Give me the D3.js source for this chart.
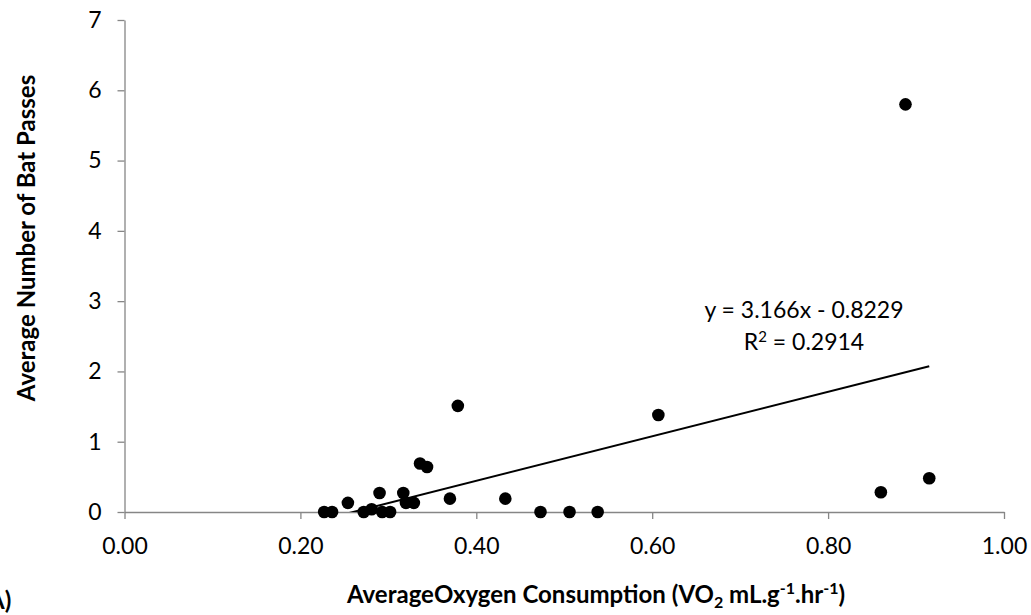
<!DOCTYPE html>
<html>
<head>
    <meta charset="utf-8">
    <style>
        body { margin: 0; background: #fff; }
        text { font-family: Lato, "Open Sans", sans-serif; }
    </style>
</head>
<body>
    <script src="https://cdn.jsdelivr.net/npm/d3@7"></script>
    <script>
        // values
        var oxygen = [0.227, 0.236, 0.254, 0.272, 0.281, 0.290, 0.293, 0.302, 0.317, 0.320, 0.329, 0.336,
                      0.344, 0.370, 0.379, 0.433, 0.473, 0.506, 0.538, 0.607, 0.860, 0.888, 0.915];
        var batPasses = [0, 0, 0.13, 0, 0.04, 0.27, 0, 0, 0.27, 0.13, 0.13, 0.69,
                         0.64, 0.19, 1.51, 0.19, 0, 0, 0, 1.38, 0.28, 5.80, 0.48];
        var xTicks = [0, 0.2, 0.4, 0.6, 0.8, 1.0];
        var yTicks = [0, 1, 2, 3, 4, 5, 6, 7];
        var slope = 3.166, intercept = -0.8229;
        var eqLabel = "y = 3.166x - 0.8229";
        var r2Label = "0.2914";

        var width = 1031, height = 615;
        var plot = { left: 124.5, right: 1004, top: 20, bottom: 512 };
        var fontSize = 23;

        var svg = d3.select("body").append("svg")
            .attr("width", width)
            .attr("height", height);

        var xScale = d3.scaleLinear().domain([0, 1]).range([plot.left, plot.right]);
        var yScale = d3.scaleLinear().domain([0, 7]).range([plot.bottom, plot.top]);

        var xAxis = d3.axisBottom(xScale).tickValues(xTicks).tickFormat(d3.format(".2f"))
            .tickSizeInner(7).tickSizeOuter(0).tickPadding(19);
        var yAxis = d3.axisLeft(yScale).tickValues(yTicks).tickFormat(d3.format("d"))
            .tickSizeInner(7).tickSizeOuter(0).tickPadding(16);

        var xg = svg.append("g").attr("transform", "translate(0," + plot.bottom + ")").call(xAxis);
        var yg = svg.append("g").attr("transform", "translate(" + plot.left + ",0)").call(yAxis);
        styleAxis(xg);
        styleAxis(yg);

        // trendline, clipped to the plot area
        svg.append("clipPath").attr("id", "clip")
            .append("rect")
            .attr("x", plot.left).attr("y", plot.top)
            .attr("width", plot.right - plot.left).attr("height", plot.bottom - plot.top);
        var xExt = d3.extent(oxygen);
        svg.append("line")
            .attr("clip-path", "url(#clip)")
            .attr("x1", xScale(xExt[0])).attr("y1", yScale(slope * xExt[0] + intercept))
            .attr("x2", xScale(xExt[1])).attr("y2", yScale(slope * xExt[1] + intercept))
            .attr("stroke", "#000").attr("stroke-width", 2);

        svg.append("g").selectAll("circle")
            .data(d3.zip(oxygen, batPasses))
            .enter().append("circle")
            .attr("cx", function (d) { return xScale(d[0]); })
            .attr("cy", function (d) { return yScale(d[1]); })
            .attr("r", 6.3)
            .attr("fill", "#000");

        // equation labels
        svg.append("text").attr("x", 804).attr("y", 318)
            .attr("text-anchor", "middle").attr("font-size", fontSize).text(eqLabel);
        var r2 = svg.append("text").attr("x", 804).attr("y", 350)
            .attr("text-anchor", "middle").attr("font-size", fontSize);
        r2.append("tspan").text("R");
        r2.append("tspan").attr("font-size", 15).attr("dy", -8).text("2");
        r2.append("tspan").attr("dy", 8).text(" = " + r2Label);

        // axis titles
        svg.append("text")
            .attr("transform", "translate(35,238) rotate(-90)")
            .attr("text-anchor", "middle").attr("font-size", 24).attr("font-weight", "bold")
            .text("Average Number of Bat Passes");

        var xt = svg.append("text").attr("x", 596).attr("y", 603)
            .attr("text-anchor", "middle").attr("font-size", 24).attr("font-weight", "bold");
        xt.append("tspan").text("AverageOxygen Consumption (VO");
        xt.append("tspan").attr("font-size", 16).attr("dy", 5).text("2");
        xt.append("tspan").attr("dy", -5).text(" mL.g");
        xt.append("tspan").attr("font-size", 16).attr("dy", -9).text("-1");
        xt.append("tspan").attr("dy", 9).text(".hr");
        xt.append("tspan").attr("font-size", 16).attr("dy", -9).text("-1");
        xt.append("tspan").attr("dy", 9).text(")");

        svg.append("text").attr("x", -12).attr("y", 609)
            .attr("font-size", 24).attr("font-weight", "bold").text("A)");

        function styleAxis(g) {
            g.selectAll(".domain").attr("stroke", "#868686").attr("stroke-width", 1.3);
            g.selectAll(".tick line").attr("stroke", "#868686").attr("stroke-width", 1.3);
            g.selectAll(".tick text").attr("font-size", fontSize).attr("fill", "#000")
                .style("font-family", "Lato, 'Open Sans', sans-serif");
        }
    </script>
</body>
</html>
